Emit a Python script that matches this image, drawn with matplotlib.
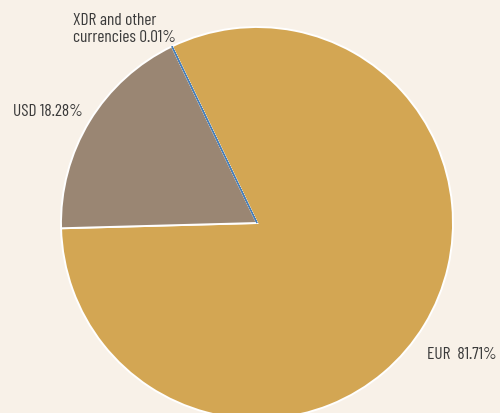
import matplotlib
matplotlib.use('Agg')
import matplotlib.pyplot as plt

# data
currencies = ['EUR', 'USD', 'XDR and other\ncurrencies']
shares = [81.71, 18.28, 0.01]
colors = ['#D3A653', '#9A8673', '#4A80B8']
bg = '#F8F1E8'

plt.rcParams['font.family'] = ['Barlow Condensed', 'Roboto Condensed', 'DejaVu Sans']

fig = plt.figure(figsize=(5, 4.14), dpi=100, facecolor=bg)
ax = fig.add_axes([0, 0, 1, 1])
ax.set_facecolor(bg)

wedges, _ = ax.pie(shares, colors=colors, startangle=115.7, counterclock=False,
                   radius=196, center=(257, 190), frame=True,
                   wedgeprops=dict(edgecolor='white', linewidth=1.4))
# the tiny XDR slice shows as a blue line between white edges
wedges[2].set_edgecolor(colors[2])
wedges[2].set_linewidth(0.9)
wedges[2].set_zorder(5)

ax.set_xlim(0, 500)
ax.set_ylim(0, 414)
ax.set_aspect('equal')
ax.axis('off')

txt = dict(fontsize=12.5, color='#3a3a3a')
ax.text(497, 414 - 355, f'{currencies[0]}  {shares[0]:.2f}%', ha='right', va='center', **txt)
ax.text(13, 414 - 111, f'{currencies[1]} {shares[1]:.2f}%', ha='left', va='center', **txt)
ax.text(73, 414 - 29, f'{currencies[2]} {shares[2]:.2f}%', ha='left', va='center',
        linespacing=1.2, **txt)

fig.savefig('out.png', dpi=100, facecolor=bg)
